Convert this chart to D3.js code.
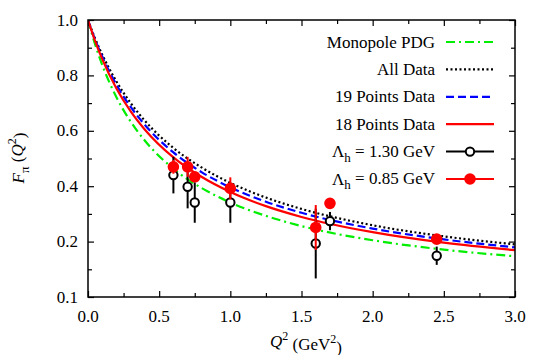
<!DOCTYPE html>
<html>
  <head>
    <script src="https://d3js.org/d3.v7.min.js"></script>
    <style>
      body{margin:0;background:#fff;}
      svg text, svg tspan{font-family:'Liberation Serif', serif !important;}
    </style>
  </head>
  <body>
    <svg width="545" height="355" id="mainsvg" font-family="Liberation Serif" style="font-family:'Liberation Serif', serif"></svg>
    <script>
        // curve samples
        const q2Grid = [0, 0.05, 0.1, 0.2, 0.3, 0.4, 0.6, 0.8, 1.0, 1.25, 1.5, 2.0, 2.5, 3.0];
        const monopolePDG = [1, 0.912, 0.838, 0.721, 0.633, 0.564, 0.463, 0.393, 0.341, 0.293, 0.256, 0.205, 0.171, 0.147];
        const allData = [1, 0.933, 0.875, 0.778, 0.700, 0.636, 0.538, 0.467, 0.412, 0.359, 0.318, 0.259, 0.219, 0.190];
        const points19 = [1, 0.929, 0.868, 0.766, 0.686, 0.621, 0.522, 0.450, 0.396, 0.344, 0.304, 0.247, 0.208, 0.179];
        const points18 = [1, 0.924, 0.859, 0.753, 0.670, 0.604, 0.504, 0.433, 0.379, 0.328, 0.289, 0.234, 0.196, 0.169];

        // lattice points
        const ptQ2 = [0.60, 0.70, 0.75, 1.00, 1.60, 1.70, 2.45];
        const lam130 = [0.440, 0.398, 0.341, 0.341, 0.193, 0.274, 0.149];
        const lam130Err = [0.066, 0.078, 0.073, 0.073, 0.126, 0.033, 0.033];
        const lam085 = [0.470, 0.470, 0.434, 0.392, 0.251, 0.338, 0.209];
        const lam085Err = [0.025, 0.036, 0.012, 0.040, 0.081, 0.005, 0.005];

        const xTicks = [0, 0.5, 1.0, 1.5, 2.0, 2.5, 3.0];
        const yTicks = [0, 0.2, 0.4, 0.6, 0.8, 1.0];
        const yTickLabels = ['0.1', '0.2', '0.4', '0.6', '0.8', '1.0'];

        const FONT = 'Liberation Serif';
        const svg = d3.select('#mainsvg');
        const margin = {top: 20, right: 30, bottom: 58, left: 88};
        const innerWidth = 545 - margin.left - margin.right;
        const innerHeight = 355 - margin.top - margin.bottom;

        const xScale = d3.scaleLinear().domain([0, 3]).range([0, innerWidth]);
        const yScale = d3.scaleLinear().domain([0, 1]).range([innerHeight, 0]);

        const g = svg.append('g').attr('transform', `translate(${margin.left}, ${margin.top})`);

        // tick marks on all four sides, pointing inward
        const minorX = d3.range(0.25, 3, 0.5);
        const minorY = d3.range(0.1, 1, 0.2);
        const tickSets = [
            [d3.axisBottom, xScale, xTicks, 6, `translate(0,${innerHeight})`],
            [d3.axisBottom, xScale, minorX, 4, `translate(0,${innerHeight})`],
            [d3.axisTop, xScale, xTicks, 6, 'translate(0,0)'],
            [d3.axisTop, xScale, minorX, 4, 'translate(0,0)'],
            [d3.axisLeft, yScale, yTicks, 6, 'translate(0,0)'],
            [d3.axisLeft, yScale, minorY, 4, 'translate(0,0)'],
            [d3.axisRight, yScale, yTicks, 6, `translate(${innerWidth},0)`],
            [d3.axisRight, yScale, minorY, 4, `translate(${innerWidth},0)`]
        ];
        tickSets.forEach(([fn, sc, tk, len, tr]) => {
            const a = g.append('g').attr('transform', tr)
                .call(fn(sc).tickValues(tk).tickSize(-len));
            a.attr('font-family', null).attr('font-size', null);
            a.selectAll('.domain').remove();
            a.selectAll('text').remove();
            a.selectAll('line').attr('stroke', '#000').attr('stroke-width', 1.2);
        });

        // tick labels
        g.selectAll('.xlab').data(xTicks).join('text').attr('class', 'xlab')
            .attr('x', d => xScale(d)).attr('y', innerHeight + 25)
            .attr('text-anchor', 'middle').attr('font-size', 17).text(d3.format('.1f'));
        g.selectAll('.ylab').data(yTicks).join('text').attr('class', 'ylab')
            .attr('x', -10).attr('y', d => yScale(d)).attr('dy', '0.33em')
            .attr('text-anchor', 'end').attr('font-size', 17).text((d, i) => yTickLabels[i]);

        // curves
        const line = d3.line().x((d, i) => xScale(q2Grid[i])).y(d => yScale(d)).curve(d3.curveMonotoneX);
        g.append('clipPath').attr('id', 'clip').append('rect')
            .attr('width', innerWidth).attr('height', innerHeight);
        const curves = [
            {vals: monopolePDG, color: '#00ee00', dash: '9,4,2,4', label: 'Monopole PDG'},
            {vals: allData, color: '#000000', dash: '2,2.5', label: 'All Data'},
            {vals: points19, color: '#0000ff', dash: '8,4', label: '19 Points Data'},
            {vals: points18, color: '#ff0000', dash: null, label: '18 Points Data'}
        ];
        const cg = g.append('g').attr('clip-path', 'url(#clip)');
        curves.forEach(c => {
            cg.append('path').attr('d', line(c.vals)).attr('fill', 'none')
                .attr('stroke', c.color).attr('stroke-width', 2.2)
                .attr('stroke-dasharray', c.dash);
        });

        // points with error bars
        const series = [
            {vals: lam130, err: lam130Err, color: '#000', fill: '#fff', r: 4.2},
            {vals: lam085, err: lam085Err, color: '#ff0000', fill: '#ff0000', r: 4.8}
        ];
        series.forEach(s => {
            const sg = g.append('g');
            sg.selectAll('line').data(ptQ2).join('line')
                .attr('x1', d => xScale(d)).attr('x2', d => xScale(d))
                .attr('y1', (d, i) => yScale(s.vals[i] - s.err[i]))
                .attr('y2', (d, i) => yScale(s.vals[i] + s.err[i]))
                .attr('stroke', s.color).attr('stroke-width', 2);
            sg.selectAll('circle').data(ptQ2).join('circle')
                .attr('cx', d => xScale(d)).attr('cy', (d, i) => yScale(s.vals[i]))
                .attr('r', s.r).attr('fill', s.fill).attr('stroke', s.color).attr('stroke-width', 2);
        });

        // frame
        g.append('rect').attr('width', innerWidth).attr('height', innerHeight)
            .attr('fill', 'none').attr('stroke', '#000').attr('stroke-width', 1.5);

        // legend
        const legend = svg.append('g');
        const rowY = i => 42 + i * 27.4;
        curves.forEach((c, i) => {
            legend.append('text').attr('x', 435).attr('y', rowY(i)).attr('dy', '0.33em')
                .attr('text-anchor', 'end').attr('font-size', 17).text(c.label);
            legend.append('line').attr('x1', 446).attr('x2', 494).attr('y1', rowY(i)).attr('y2', rowY(i))
                .attr('stroke', c.color).attr('stroke-width', 2.2).attr('stroke-dasharray', c.dash);
        });
        const ptLabels = ['1.30', '0.85'];
        series.forEach((s, j) => {
            const y = rowY(4 + j);
            const t = legend.append('text').attr('x', 435).attr('y', y).attr('dy', '0.33em')
                .attr('text-anchor', 'end').attr('font-size', 17);
            t.append('tspan').text('Λ');
            t.append('tspan').attr('font-size', 13).attr('dy', '0.35em').text('h');
            t.append('tspan').attr('dy', '-0.3em').text(` = ${ptLabels[j]} GeV`);
            legend.append('line').attr('x1', 446).attr('x2', 494).attr('y1', y).attr('y2', y)
                .attr('stroke', s.color).attr('stroke-width', 2);
            legend.append('circle').attr('cx', 470).attr('cy', y).attr('r', s.r)
                .attr('fill', s.fill).attr('stroke', s.color).attr('stroke-width', 2);
        });

        // axis titles
        const xt = svg.append('text').attr('x', 306).attr('y', 347).attr('text-anchor', 'middle').attr('font-size', 17);
        xt.append('tspan').attr('font-style', 'italic').text('Q');
        xt.append('tspan').attr('font-size', 12).attr('dy', '-0.55em').text('2');
        xt.append('tspan').attr('dy', '0.55em').text(' (GeV');
        xt.append('tspan').attr('font-size', 12).attr('dy', '-0.55em').text('2');
        xt.append('tspan').attr('dy', '0.55em').text(')');

        const yt = svg.append('text').attr('transform', 'translate(24,158) rotate(-90)')
            .attr('text-anchor', 'middle').attr('font-size', 17);
        yt.append('tspan').attr('font-style', 'italic').text('F');
        yt.append('tspan').attr('font-size', 13).attr('dy', '0.35em').text('π');
        yt.append('tspan').attr('dy', '-0.35em').text(' (');
        yt.append('tspan').attr('font-style', 'italic').text('Q');
        yt.append('tspan').attr('font-size', 12).attr('dy', '-0.55em').text('2');
        yt.append('tspan').attr('dy', '0.55em').text(')');

        svg.selectAll('text, tspan').attr('font-family', FONT).style('font-family', FONT);
    </script>
  </body>
</html>
